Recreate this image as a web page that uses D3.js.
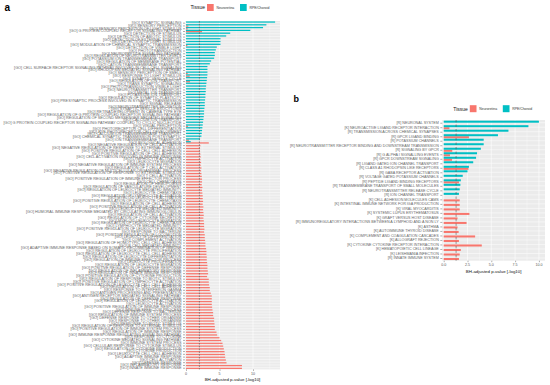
<!DOCTYPE html>
<html>
<head>
<meta charset="utf-8">
<script src="https://cdn.jsdelivr.net/npm/d3@7/dist/d3.min.js"></script>
<style>
body { margin: 0; background: #fff; }
svg { font-family: "Liberation Sans", Arial, sans-serif; }
</style>
</head>
<body>
<svg id="chart" width="550" height="385"></svg>
<script>
// panel a : GO terms, top to bottom
var goTerms = [
 "[GO] SYNAPTIC SIGNALING", "[GO] SENSORY PERCEPTION", "[GO] SENSORY PERCEPTION OF LIGHT STIMULUS",
 "[GO] G PROTEIN COUPLED RECEPTOR SIGNALING PATHWAY", "[GO] DETECTION OF STIMULUS", "[GO] DETECTION OF ABIOTIC STIMULUS",
 "[GO] DETECTION OF EXTERNAL STIMULUS", "[GO] DETECTION OF LIGHT STIMULUS", "[GO] MODULATION OF CHEMICAL SYNAPTIC TRANSMISSION",
 "[GO] DETECTION OF VISIBLE LIGHT", "[GO] PHOTOTRANSDUCTION", "[GO] NEUROPEPTIDE SIGNALING PATHWAY",
 "[GO] REGULATION OF NEUROTRANSMITTER LEVELS", "[GO] POTASSIUM ION TRANSMEMBRANE TRANSPORT", "[GO] REGULATION OF MEMBRANE POTENTIAL",
 "[GO] CATION TRANSMEMBRANE TRANSPORT", "[GO] CELL SURFACE RECEPTOR SIGNALING PATHWAY INVOLVED IN CELL CELL SIGNALING",
 "[GO] RHODOPSIN MEDIATED SIGNALING PATHWAY", "[GO] SENSORY PERCEPTION OF SMELL", "[GO] RESPONSE TO LIGHT STIMULUS",
 "[GO] SYNAPTIC VESICLE CYCLE", "[GO] REGULATION OF ION TRANSPORT", "[GO] TRANS SYNAPTIC SIGNALING",
 "[GO] PHOTOTRANSDUCTION VISIBLE LIGHT", "[GO] NEUROTRANSMITTER TRANSPORT", "[GO] METAL ION TRANSPORT",
 "[GO] POTASSIUM ION TRANSPORT", "[GO] REGULATION OF SYNAPTIC PLASTICITY", "[GO] PRESYNAPTIC PROCESS INVOLVED IN SYNAPTIC TRANSMISSION",
 "[GO] SIGNAL RELEASE", "[GO] NEUROTRANSMITTER SECRETION", "[GO] SYNAPTIC VESICLE EXOCYTOSIS",
 "[GO] RETINA DEVELOPMENT IN CAMERA TYPE EYE", "[GO] REGULATION OF G PROTEIN COUPLED RECEPTOR SIGNALING PATHWAY",
 "[GO] REGULATION OF SECOND MESSENGER MEDIATED SIGNALING", "[GO] CALCIUM ION TRANSPORT",
 "[GO] G PROTEIN COUPLED RECEPTOR SIGNALING PATHWAY COUPLED TO CYCLIC NUCLEOTIDE",
 "[GO] VISUAL PERCEPTION", "[GO] PHOTORECEPTOR CELL DIFFERENTIATION", "[GO] EYE PHOTORECEPTOR CELL DEVELOPMENT",
 "[GO] CALCIUM ION TRANSMEMBRANE TRANSPORT", "[GO] CHEMICAL SYNAPTIC TRANSMISSION POSTSYNAPTIC",
 "[GO] ION TRANSMEMBRANE TRANSPORT", "[GO] BIOLOGICAL ADHESION",
 "[GO] NEGATIVE REGULATION OF CELL ACTIVATION", "[GO] NEGATIVE REGULATION OF RESPONSE TO EXTERNAL STIMULUS",
 "[GO] POSITIVE REGULATION OF CELL CELL ADHESION", "[GO] POSITIVE REGULATION OF CELL ADHESION",
 "[GO] CELL ACTIVATION INVOLVED IN IMMUNE RESPONSE", "[GO] LYMPHOCYTE ACTIVATION", "[GO] LEUKOCYTE MIGRATION",
 "[GO] NEGATIVE REGULATION OF IMMUNE SYSTEM PROCESS", "[GO] REGULATION OF T CELL ACTIVATION",
 "[GO] NEGATIVE REGULATION OF MULTICELLULAR ORGANISMAL PROCESS", "[GO] POSITIVE REGULATION OF RESPONSE TO EXTERNAL STIMULUS",
 "[GO] T CELL ACTIVATION", "[GO] POSITIVE REGULATION OF IMMUNE EFFECTOR PROCESS", "[GO] CELL CHEMOTAXIS",
 "[GO] REGULATION OF HEMOPOIESIS", "[GO] REGULATION OF VASCULATURE DEVELOPMENT", "[GO] REGULATION OF LEUKOCYTE MEDIATED IMMUNITY",
 "[GO] LEUKOCYTE CHEMOTAXIS", "[GO] REGULATION OF LYMPHOCYTE ACTIVATION", "[GO] MYELOID LEUKOCYTE ACTIVATION",
 "[GO] POSITIVE REGULATION OF LEUKOCYTE CHEMOTAXIS", "[GO] REGULATION OF CELL ADHESION", "[GO] POSITIVE REGULATION OF CELL ACTIVATION",
 "[GO] LEUKOCYTE MEDIATED IMMUNITY", "[GO] HUMORAL IMMUNE RESPONSE MEDIATED BY CIRCULATING IMMUNOGLOBULIN",
 "[GO] REGULATION OF CELL ACTIVATION", "[GO] REGULATION OF CYTOKINE SECRETION", "[GO] MYELOID LEUKOCYTE MIGRATION",
 "[GO] REGULATION OF LEUKOCYTE CHEMOTAXIS", "[GO] LYMPHOCYTE MEDIATED IMMUNITY", "[GO] POSITIVE REGULATION OF LEUKOCYTE MIGRATION",
 "[GO] RESPONSE TO BACTERIUM", "[GO] POSITIVE REGULATION OF LOCOMOTION", "[GO] LEUKOCYTE DIFFERENTIATION",
 "[GO] COMPLEMENT ACTIVATION", "[GO] REGULATION OF HOMOTYPIC CELL CELL ADHESION", "[GO] B CELL MEDIATED IMMUNITY",
 "[GO] ADAPTIVE IMMUNE RESPONSE BASED ON SOMATIC RECOMBINATION OF IMMUNE",
 "[GO] REGULATION OF LEUKOCYTE PROLIFERATION", "[GO] REGULATION OF LEUKOCYTE CELL CELL ADHESION",
 "[GO] REGULATION OF LEUKOCYTE DIFFERENTIATION", "[GO] REGULATION OF IMMUNE EFFECTOR PROCESS", "[GO] LEUKOCYTE PROLIFERATION",
 "[GO] REGULATION OF LEUKOCYTE MIGRATION", "[GO] POSITIVE REGULATION OF DEFENSE RESPONSE", "[GO] REGULATION OF INFLAMMATORY RESPONSE",
 "[GO] REGULATION OF INNATE IMMUNE RESPONSE", "[GO] POSITIVE REGULATION OF CYTOKINE PRODUCTION",
 "[GO] REGULATION OF RESPONSE TO BIOTIC STIMULUS", "[GO] POSITIVE REGULATION OF LYMPHOCYTE ACTIVATION",
 "[GO] POSITIVE REGULATION OF LEUKOCYTE CELL CELL ADHESION", "[GO] REGULATION OF CELL CELL ADHESION",
 "[GO] RESPONSE TO INTERFERON GAMMA", "[GO] ANTIGEN PROCESSING AND PRESENTATION", "[GO] ANTIGEN RECEPTOR MEDIATED SIGNALING PATHWAY",
 "[GO] REGULATION OF DEFENSE RESPONSE", "[GO] REGULATION OF LEUKOCYTE ACTIVATION", "[GO] LEUKOCYTE ACTIVATION",
 "[GO] POSITIVE REGULATION OF IMMUNE RESPONSE", "[GO] IMMUNE EFFECTOR PROCESS", "[GO] DEFENSE RESPONSE TO BACTERIUM",
 "[GO] REGULATION OF IMMUNE SYSTEM PROCESS", "[GO] DEFENSE RESPONSE TO OTHER ORGANISM", "[GO] RESPONSE TO OTHER ORGANISM",
 "[GO] RESPONSE TO BIOTIC STIMULUS", "[GO] REGULATION OF RESPONSE TO EXTERNAL STIMULUS",
 "[GO] POSITIVE REGULATION OF IMMUNE SYSTEM PROCESS", "[GO] REGULATION OF IMMUNE RESPONSE",
 "[GO] IMMUNE RESPONSE REGULATING SIGNALING PATHWAY", "[GO] RESPONSE TO CYTOKINE", "[GO] CYTOKINE MEDIATED SIGNALING PATHWAY",
 "[GO] IMMUNE SYSTEM PROCESS", "[GO] CELLULAR RESPONSE TO CYTOKINE STIMULUS", "[GO] REGULATION OF CYTOKINE PRODUCTION",
 "[GO] CYTOKINE PRODUCTION", "[GO] LEUKOCYTE CELL CELL ADHESION", "[GO] ADAPTIVE IMMUNE RESPONSE",
 "[GO] CELL ACTIVATION", "[GO] DEFENSE RESPONSE", "[GO] INFLAMMATORY RESPONSE", "[GO] INNATE IMMUNE RESPONSE"
];

var goRpe = [
 13.3, 12.0, 11.5, 9.6, 6.6, 6.0, 5.15, 5.15, 5.15, 4.6,
 4.45, 4.3, 4.3, 4.2, 3.75, 3.55, 3.2, 3.2, 3.2, 3.2,
 3.15, 3.1, 3.05, 3.0, 2.95, 2.95, 2.9, 2.9, 2.85, 2.8,
 2.8, 2.75, 2.7, 2.7, 2.65, 2.6, 2.55, 2.5, 2.45, 2.4,
 2.35, 2.3, 2.1, 0.7,
 0, 0, 0, 0, 0, 0, 0, 0, 0, 0, 0, 0, 0, 0, 0, 0, 0, 0, 0, 0,
 0, 0, 0, 0, 0, 0, 0, 0, 0, 0, 0, 0, 0, 0, 0, 0, 0, 0, 0, 0,
 0, 0, 0, 0, 0, 0, 0, 0, 0, 0, 0, 0, 0, 0, 0, 0, 0, 0, 0, 0,
 0, 0, 0, 0, 0, 0, 0, 0, 0, 0, 0, 0, 0, 0, 0, 0, 0, 0, 0, 0,
 0
];

var goNeuro = [
 0, 0.35, 0.25, 2.4, 0, 0, 0, 0, 0.2, 0,
 0, 0, 0, 0, 0, 0, 0, 0, 0.25, 0.55,
 0, 0.6, 0, 0, 0, 0, 0, 0, 0, 0,
 0, 0, 0, 0, 0, 0, 0, 0.3, 0, 0,
 0, 0, 0.45, 3.4,
 2.15, 2.1, 2.1, 2.15, 2.2, 2.15, 2.25, 2.2, 2.3, 2.25, 2.3, 2.35, 2.4,
 2.4, 2.35, 2.45, 2.4, 2.45, 2.5, 2.5, 2.55, 2.5, 2.6, 2.55, 2.6, 2.65, 2.6, 2.65, 2.7, 2.7,
 2.75, 2.7, 2.8, 2.8, 2.85, 2.9, 2.9, 3.0, 3.05, 3.05, 3.1, 3.1, 3.15, 3.2, 3.2, 3.25,
 3.3, 3.15, 3.4, 3.4, 3.45, 3.55, 3.55, 3.7, 3.85, 3.85, 3.85, 3.85, 3.9, 3.95, 4.05, 4.05,
 4.2, 4.2, 4.25, 4.3, 4.3, 4.55, 4.65, 5.0, 5.25, 5.45, 5.55, 5.65, 5.75, 5.8, 5.85, 5.95,
 6.05, 8.35, 8.35
];
var goTicks = [0, 5, 10];
var goCutoff = 2;

// panel b : KEGG / Reactome pathways
var pwTerms = [
 "[R] NEURONAL SYSTEM", "[K] NEUROACTIVE LIGAND RECEPTOR INTERACTION", "[R] TRANSMISSION ACROSS CHEMICAL SYNAPSES",
 "[R] GPCR LIGAND BINDING", "[R] POTASSIUM CHANNELS", "[R] NEUROTRANSMITTER RECEPTOR BINDING AND DOWNSTREAM TRANSMISSION",
 "[R] SIGNALING BY GPCR", "[R] G ALPHA I SIGNALLING EVENTS", "[R] GPCR DOWNSTREAM SIGNALING",
 "[R] LIGAND GATED ION CHANNEL TRANSPORT", "[R] CLASS A1 RHODOPSIN LIKE RECEPTORS", "[R] GABA RECEPTOR ACTIVATION",
 "[R] VOLTAGE GATED POTASSIUM CHANNELS", "[R] PEPTIDE LIGAND BINDING RECEPTORS", "[R] TRANSMEMBRANE TRANSPORT OF SMALL MOLECULES",
 "[R] NEUROTRANSMITTER RELEASE CYCLE", "[R] ION CHANNEL TRANSPORT", "[K] CELL ADHESION MOLECULES CAMS",
 "[K] INTESTINAL IMMUNE NETWORK FOR IGA PRODUCTION", "[K] VIRAL MYOCARDITIS", "[K] SYSTEMIC LUPUS ERYTHEMATOSUS",
 "[K] GRAFT VERSUS HOST DISEASE", "[R] IMMUNOREGULATORY INTERACTIONS BETWEEN A LYMPHOID AND A NON LY",
 "[K] ASTHMA", "[K] AUTOIMMUNE THYROID DISEASE", "[K] COMPLEMENT AND COAGULATION CASCADES", "[K] ALLOGRAFT REJECTION",
 "[K] CYTOKINE CYTOKINE RECEPTOR INTERACTION", "[K] HEMATOPOIETIC CELL LINEAGE", "[K] LEISHMANIA INFECTION",
 "[R] INNATE IMMUNE SYSTEM"
];
var pwRpe = [10.0, 8.9, 6.8, 5.7, 4.2, 4.2, 3.9, 3.5, 3.4, 3.1, 2.65, 2.5, 2.0, 1.8, 1.75, 1.68, 1.6,
 0, 0, 0, 0, 0, 0, 0, 0, 0, 0, 0, 0, 0, 0];
var pwNeuro = [0, 0.6, 0, 2.65, 0, 0, 0.9, 0.66, 0.87, 0, 2.6, 0, 0, 1.6, 0, 0, 0,
 1.68, 1.68, 1.68, 2.7, 1.45, 2.4, 1.45, 1.57, 3.3, 1.6, 4.0, 1.8, 1.68, 1.6];
var pwTicks = [0, 2.5, 5, 7.5, 10];
var pwCutoff = 1.3;

var tissues = ["Neuroretina", "RPE/Choroid"];
var colors = { "Neuroretina": "#F8766D", "RPE/Choroid": "#00BFC4" };

var svg = d3.select("#chart");

// browsers clamp very small font sizes, so draw text at 10px and scale it down
function tinyText(parent, x, y, size, str, anchor) {
  var t = parent.append("g")
    .attr("transform", "translate(" + x + "," + y + ") scale(" + (size / 10) + ")")
    .append("text")
    .style("font-size", "10px")
    .attr("text-anchor", anchor || "start")
    .text(str);
  return t;
}

function drawPanel(opt) {
  var g = svg.append("g");

  var x = d3.scaleLinear().domain(opt.xDomain).range([opt.left, opt.right]);
  var y = d3.scalePoint().domain(opt.terms).range([opt.top, opt.bottom]).padding(0.6);
  var half = y.step() * 0.45;

  var rows = opt.terms.map(function(t, i) {
    return { term: t, "Neuroretina": opt.neuro[i], "RPE/Choroid": opt.rpe[i] };
  });

  // panel background + grid
  g.append("rect")
    .attr("x", opt.left).attr("y", opt.top)
    .attr("width", opt.right - opt.left).attr("height", opt.bottom - opt.top)
    .attr("fill", "#EBEBEB");

  var minor = [];
  var tstep = opt.ticks[1] - opt.ticks[0];
  opt.ticks.forEach(function(t) {
    if (t + tstep / 2 < opt.xDomain[1]) minor.push(t + tstep / 2);
  });
  g.selectAll(".minor").data(minor).enter().append("line")
    .attr("x1", d => x(d)).attr("x2", d => x(d))
    .attr("y1", opt.top).attr("y2", opt.bottom)
    .attr("stroke", "#fff").attr("stroke-width", 0.3);
  g.selectAll(".major").data(opt.ticks).enter().append("line")
    .attr("x1", d => x(d)).attr("x2", d => x(d))
    .attr("y1", opt.top).attr("y2", opt.bottom)
    .attr("stroke", "#fff").attr("stroke-width", 0.6);
  g.selectAll(".hgrid").data(opt.terms).enter().append("line")
    .attr("x1", opt.left).attr("x2", opt.right)
    .attr("y1", d => y(d)).attr("y2", d => y(d))
    .attr("stroke", "#fff").attr("stroke-width", 0.5);

  // dodged bars: RPE/Choroid on top half, Neuroretina on bottom half
  tissues.forEach(function(tis) {
    g.selectAll(".bar-" + tis.replace("/", ""))
      .data(rows.filter(r => r[tis] > 0))
      .enter().append("rect")
      .attr("x", x(0))
      .attr("y", r => tis === "RPE/Choroid" ? y(r.term) - half : y(r.term))
      .attr("width", r => x(r[tis]) - x(0))
      .attr("height", half)
      .attr("fill", colors[tis]);
  });

  // significance cutoff
  g.append("line")
    .attr("x1", x(opt.cutoff)).attr("x2", x(opt.cutoff))
    .attr("y1", opt.top).attr("y2", opt.bottom)
    .attr("stroke", "#555").attr("stroke-opacity", 0.75)
    .attr("stroke-width", 0.8)
    .attr("stroke-dasharray", opt.dash);

  // axes (tick marks from d3, labels drawn scaled)
  var yAxis = g.append("g")
    .attr("transform", "translate(" + opt.left + ",0)")
    .call(d3.axisLeft(y).tickSize(2).tickFormat(""));
  yAxis.select(".domain").remove();
  yAxis.selectAll("line").attr("stroke", "#333").attr("stroke-width", 0.4);
  opt.terms.forEach(function(t) {
    tinyText(g, opt.left - 3.5, y(t) + 1.35, opt.labelSize, t, "end").attr("fill", "#666");
  });

  var xAxis = g.append("g")
    .attr("transform", "translate(0," + opt.bottom + ")")
    .call(d3.axisBottom(x).tickValues(opt.ticks).tickSize(1.5).tickFormat(""));
  xAxis.select(".domain").remove();
  xAxis.selectAll("line").attr("stroke", "#333").attr("stroke-width", 0.4);
  opt.ticks.forEach(function(t) {
    tinyText(g, x(t), opt.bottom + 5.3, 3.6, opt.fmt(t), "middle").attr("fill", "#555");
  });

  tinyText(g, (opt.left + opt.right) / 2, opt.bottom + 11.8, 4.4, "BH-adjusted p-value [-log10]", "middle")
    .attr("fill", "#111");

  // legend
  var lg = g.append("g").attr("transform", "translate(" + opt.legend[0] + "," + opt.legend[1] + ")");
  tinyText(lg, 0, 1.8, 5, "Tissue").attr("fill", "#111");
  var lx = [16.5, 49.5];
  tissues.forEach(function(tis, k) {
    lg.append("rect").attr("x", lx[k]).attr("y", -3.5).attr("width", 6.7).attr("height", 7)
      .attr("fill", colors[tis]);
    tinyText(lg, lx[k] + 9.5, 1.3, 3.4, tis).attr("fill", "#333");
  });

  tinyText(svg, opt.tag[0], opt.tag[1], opt.tag[2], opt.tag[3]).style("font-weight", "bold");
}

drawPanel({
  terms: goTerms, rpe: goRpe, neuro: goNeuro, ticks: goTicks, cutoff: goCutoff,
  xDomain: [-0.15, 14.03], left: 185, right: 280, top: 21, bottom: 369.4,
  fmt: d3.format("d"), dash: "1.6,1.2", labelSize: 3.8,
  legend: [190.5, 7.5], tag: [4.5, 10.5, 10, "a"]
});

drawPanel({
  terms: pwTerms, rpe: pwRpe, neuro: pwNeuro, ticks: pwTicks, cutoff: pwCutoff,
  xDomain: [-0.147, 10.64], left: 442.3, right: 545, top: 120, bottom: 260.7,
  fmt: d3.format(".1f"), dash: "2.4,2.1", labelSize: 3.7,
  legend: [453.3, 108.7], tag: [293.5, 102, 9, "b"]
});
</script>
</body>
</html>
